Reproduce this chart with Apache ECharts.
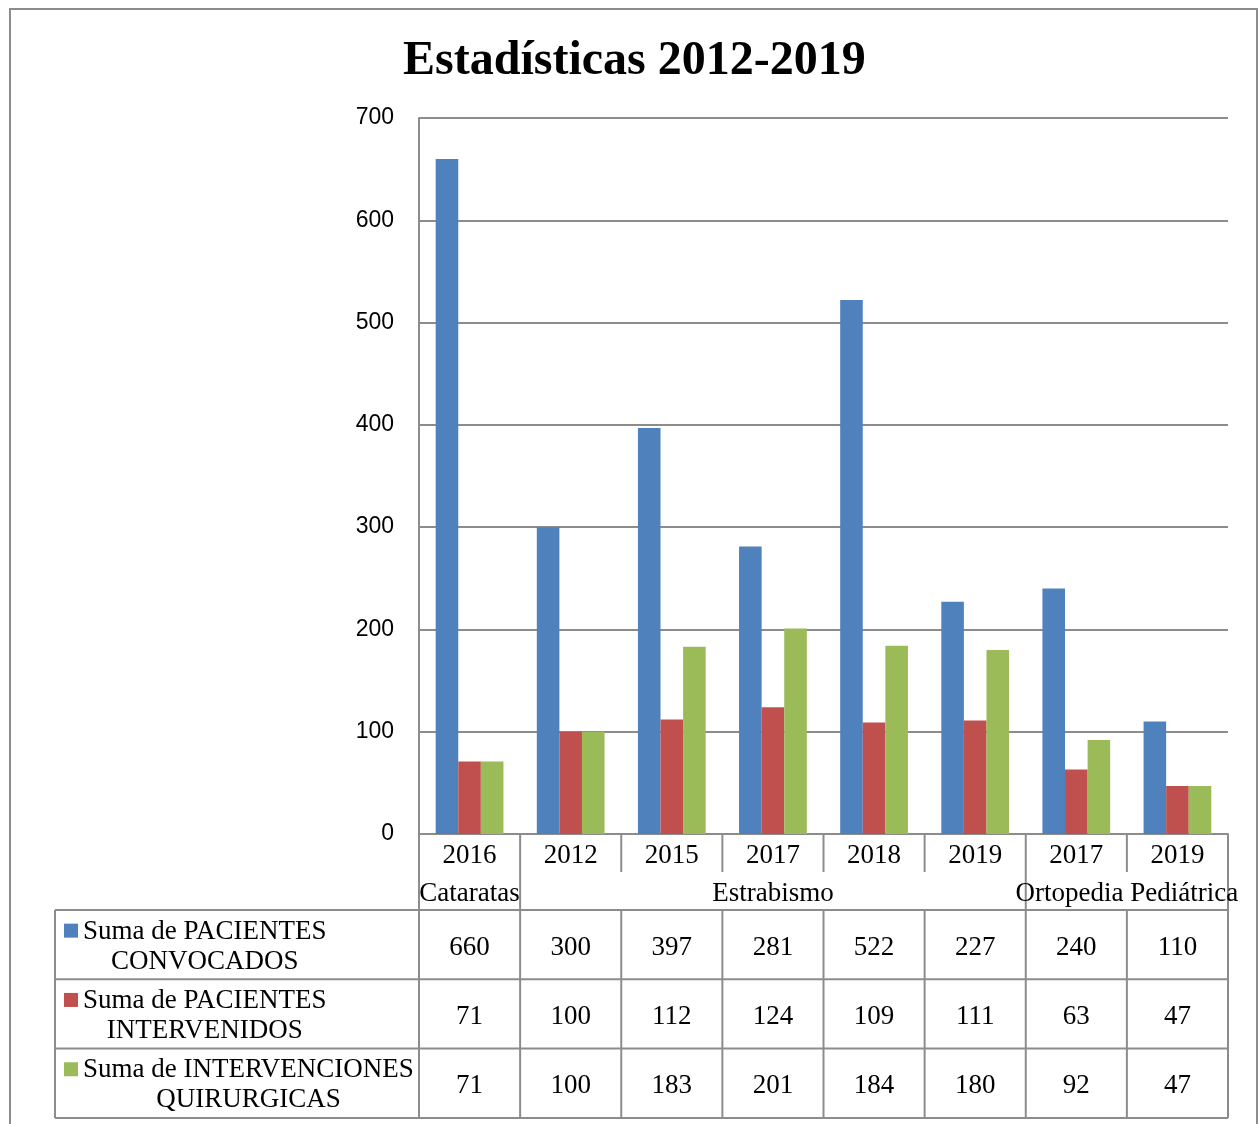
<!DOCTYPE html>
<html><head><meta charset="utf-8">
<script src="https://cdn.jsdelivr.net/npm/echarts@6/dist/echarts.min.js"></script>
<style>html,body{margin:0;padding:0;background:#fff}#c{width:1260px;height:1124px}</style>
</head><body><div id="c"></div>
<script>
// ---- data ----
const years = ['2016','2012','2015','2017','2018','2019','2017','2019'];
const groupNames = ['Cataratas','Estrabismo','Ortopedia Pediátrica'];
const groupSpans = [1,5,2];
const seriesLine1 = ['Suma de PACIENTES','Suma de PACIENTES','Suma de INTERVENCIONES'];
const seriesLine2 = ['CONVOCADOS','INTERVENIDOS','QUIRURGICAS'];
const convocados   = [660,300,397,281,522,227,240,110];
const intervenidos = [71,100,112,124,109,111,63,47];
const quirurgicas  = [71,100,183,201,184,180,92,47];
const yTicks = [0,100,200,300,400,500,600,700];

// ---- style ----
const colors = ['#4F81BD','#C0504D','#9BBB59'];
const seriesData = [convocados, intervenidos, quirurgicas];
const gray = '#8c8c8c';
const serif = '"Liberation Serif","Times New Roman",serif';
const GL = 419, GR = 1228, GT = 118, GB = 834;
const FS = 27;

const chart = echarts.init(document.getElementById('c'), null, {renderer:'canvas'});
chart.setOption({
  animation:false,
  backgroundColor:'#fff',
  title:{text:'Estadísticas 2012-2019', left:398, top:33,
    textStyle:{fontFamily:serif, fontWeight:'bold', fontSize:48, color:'#000'}},
  grid:{left:GL, right:1260-GR, top:GT, bottom:1124-GB, containLabel:false},
  xAxis:{type:'category', data:years, boundaryGap:true,
    axisLine:{show:true, lineStyle:{color:gray, width:2}},
    axisTick:{show:false}, axisLabel:{show:false}},
  yAxis:{type:'value', min:yTicks[0], max:yTicks[yTicks.length-1], interval:100,
    axisLine:{show:true, lineStyle:{color:gray, width:2}},
    axisTick:{show:false},
    axisLabel:{margin:25, fontFamily:'"Liberation Sans",Arial,sans-serif', fontSize:23, color:'#000', padding:[6,0,0,0]},
    splitLine:{lineStyle:{color:gray, width:2}}},
  series: seriesData.map((d,i)=>({
    type:'bar', name:seriesLine1[i]+' '+seriesLine2[i], data:d,
    barGap:'0%', barCategoryGap:'33%',
    itemStyle:{color:colors[i]}
  }))
});

// ---- data table drawn from axis positions ----
const n = years.length;
const c0 = chart.convertToPixel({xAxisIndex:0}, 0);
const c1 = chart.convertToPixel({xAxisIndex:0}, 1);
const cw = c1 - c0;
const left = c0 - cw/2;
const bx = i => left + i*cw;
const yearTop = GB, yearBot = 872, grpBot = 910;
const rowH = 69.3;
const rowTops = [grpBot, grpBot+rowH, grpBot+2*rowH];
const tableBot = grpBot + 3*rowH;
const legLeft = 55;
const els = [];
const line = (x1,y1,x2,y2)=>els.push({type:'line', shape:{x1,y1,x2,y2}, style:{stroke:gray, lineWidth:2}, z:10});
const txt = (t,x,y,extra)=>els.push(Object.assign({type:'text', z:11, style:Object.assign({text:t, x, y, font:FS+'px '+serif, fill:'#000', textAlign:'center', align:'center', textVerticalAlign:'middle', verticalAlign:'middle'}, extra||{})}));

// outer frame
els.push({type:'rect', shape:{x:10, y:9, width:1247, height:1140}, style:{fill:null, stroke:gray, lineWidth:2}, z:1});

// year row
for (let i=0;i<=n;i++) line(bx(i), yearTop, bx(i), yearBot);
years.forEach((y,i)=>txt(y, bx(i)+cw/2, 856));
// group row
let acc = 0;
const bounds = [0];
groupSpans.forEach(s=>{acc+=s; bounds.push(acc);});
bounds.forEach(b=>line(bx(b), yearBot, bx(b), grpBot));
groupNames.forEach((g,i)=>txt(g, (bx(bounds[i])+bx(bounds[i+1]))/2, 894));
// data rows
for (let i=0;i<=n;i++) line(bx(i), grpBot, bx(i), tableBot);
line(legLeft, grpBot, legLeft, tableBot);
[grpBot, ...rowTops.slice(1), tableBot].forEach(y=>line(legLeft, y, bx(n), y));
const meas = document.createElement('canvas').getContext('2d');
meas.font = FS+'px "Liberation Serif"';
seriesData.forEach((d,r)=>{
  const cy = rowTops[r] + rowH/2;
  d.forEach((v,i)=>txt(String(v), bx(i)+cw/2, cy+3));
  els.push({type:'rect', shape:{x:64, y:cy-21, width:14, height:14}, style:{fill:colors[r]}, z:11});
  const w = meas.measureText(seriesLine1[r]).width;
  txt(seriesLine1[r]+'\n'+seriesLine2[r], 83 + w/2, cy+2, {lineHeight:30});
});
chart.setOption({graphic:{elements:els}});
</script>
</body></html>
